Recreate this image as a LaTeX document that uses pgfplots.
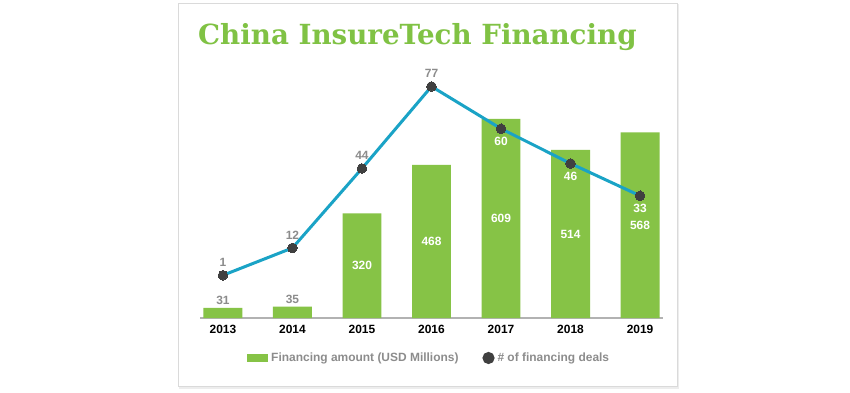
\documentclass[border=0pt]{standalone}
\usepackage{pgfplots}
\usepackage{pgfplotstable}
\pgfplotsset{compat=1.18}
\usepackage{fontspec}
\setmainfont{Liberation Sans}
\newfontfamily\titlefont{DejaVu Serif}
\definecolor{bargreen}{RGB}{134,195,70}
\definecolor{titlegreen}{RGB}{128,194,68}
\definecolor{linecol}{RGB}{26,163,198}
\definecolor{markcol}{RGB}{64,64,64}
\definecolor{lblgray}{RGB}{140,140,140}
\definecolor{boxgray}{RGB}{218,218,218}
\pgfplotsset{/pgf/number format/assume math mode=true}

\pgfplotstableread{
x amount
0 31
1 35
}\amtlow
\pgfplotstableread{
x amount
2 320
3 468
4 609
5 514
6 568
}\amthigh
\pgfplotstableread{
x deals
0 1
1 12
2 44
3 77
4 60
5 46
6 33
}\deals

\begin{document}
\begin{tikzpicture}
\useasboundingbox (-200bp,-75bp) rectangle (650bp,318bp);
% frame with soft shadow
\fill[black!7] (-21bp,-71bp) rectangle (479bp,314bp);
\fill[white] (-22bp,-68bp) rectangle (477bp,315bp);
\draw[boxgray, line width=0.8bp] (-22bp,-68bp) rectangle (477bp,315bp);
\node[anchor=base west, text=titlegreen, inner sep=0pt,
      font=\titlefont\bfseries\fontsize{27.8}{28}\selectfont] at (-2bp,273bp) {China InsureTech Financing};

\begin{axis}[
  at={(0,0)}, anchor=south west,
  width=463bp, height=238bp, scale only axis,
  xmin=-0.33, xmax=6.33, ymin=0, ymax=728,
  axis x line*=bottom, axis y line=none,
  x axis line style={draw=black!30, line width=1.5bp},
  xtick={0,1,2,3,4,5,6},
  xticklabels={2013,2014,2015,2016,2017,2018,2019},
  major tick length=0pt,
  xticklabel style={anchor=base, yshift=-15bp, font=\bfseries\fontsize{12}{12}\selectfont, text=black},
  ytick=\empty,
  clip=false,
]
\addplot[ybar, bar shift=0pt, bar width=0.56, fill=bargreen, draw=none,
  nodes near coords, point meta=explicit,
  every node near coord/.append style={anchor=center, yshift=7bp, text=lblgray,
     font=\bfseries\fontsize{12}{12}\selectfont}]
  table[x=x, y=amount, meta=amount] {\amtlow};
\addplot[ybar, bar shift=0pt, bar width=0.56, fill=bargreen, draw=none,
  nodes near coords, point meta=explicit,
  visualization depends on={rawy\as\amt},
  every node near coord/.append style={anchor=center, yshift={-0.16346*\amt*1bp}, text=white,
     font=\bfseries\fontsize{12}{12}\selectfont}]
  table[x=x, y=amount, meta=amount] {\amthigh};
\end{axis}

\begin{axis}[
  at={(0,0)}, anchor=south west,
  width=463bp, height=238bp, scale only axis,
  xmin=-0.33, xmax=6.33, ymin=-16.2, ymax=79.6,
  hide axis, clip=false,
  legend style={at={(axis description cs:0.4924,-0.168)}, anchor=center,
    draw=none, fill=none, text=lblgray,
    font=\bfseries\fontsize{12}{12}\selectfont,
    nodes={inner sep=0pt},
    /tikz/every even column/.append style={column sep=24bp}},
  legend columns=2,
]
\addlegendimage{legend image code/.code={\fill[bargreen] (0bp,-3.5bp) rectangle (20bp,3.5bp); \path (24bp,0bp);}}
\addlegendentry{Financing amount (USD Millions)}
\addplot[linecol, line width=3bp, mark=*, mark size=4.8bp,
  mark options={fill=markcol, draw=markcol, line width=0pt},
  legend image code/.code={\fill[markcol] (4.5bp,0bp) circle (4.5bp); \path (12bp,0bp);}]
  table[x=x, y=deals] {\deals};
\addlegendentry{\# of financing deals}
\addplot[draw=none, mark=none, forget plot, restrict x to domain=-1:3.5,
  nodes near coords, point meta=explicit,
  every node near coord/.append style={anchor=center, yshift=13bp, text=lblgray,
     font=\bfseries\fontsize{12}{12}\selectfont}]
  table[x=x, y=deals, meta=deals] {\deals};
\addplot[draw=none, mark=none, forget plot, restrict x to domain=3.5:7,
  nodes near coords, point meta=explicit,
  every node near coord/.append style={anchor=center, yshift=-13bp, text=white,
     font=\bfseries\fontsize{12}{12}\selectfont}]
  table[x=x, y=deals, meta=deals] {\deals};
\end{axis}
\end{tikzpicture}
\end{document}
